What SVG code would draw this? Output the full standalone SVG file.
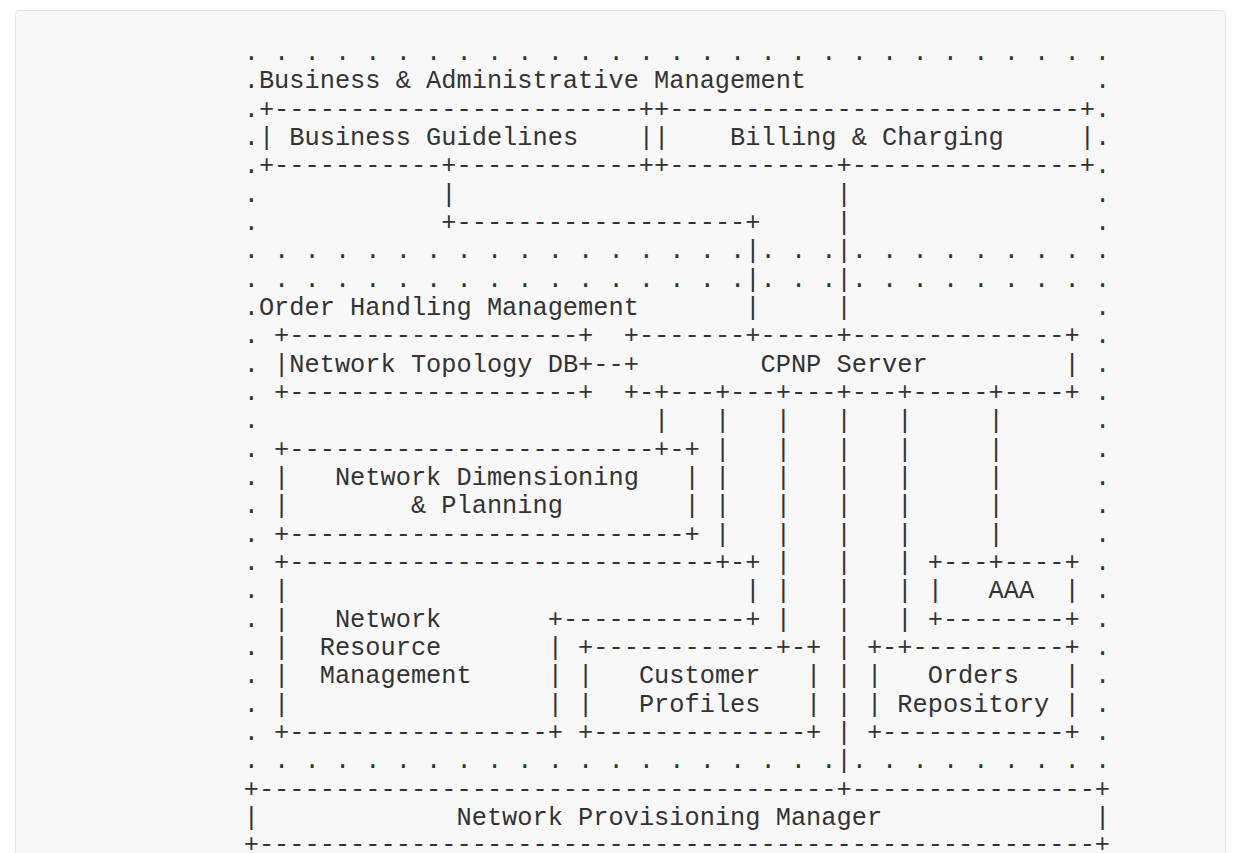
<svg xmlns="http://www.w3.org/2000/svg" width="1241" height="853" viewBox="0 0 1241 853" xml:space="preserve">
<style>
text { font-family: "Liberation Mono", "DejaVu Sans Mono", monospace; font-size: 25.33px; fill: #333333; white-space: pre; }
</style>
<rect x="0" y="0" width="1241" height="853" fill="#ffffff"/>
<rect x="15.5" y="10.5" width="1210" height="900" rx="4" fill="#f8f8f8" stroke="#e3e3e3"/>

<g id="region-business">
<text x="243.7" y="60">. . . . . . . . . . . . . . . . . . . . . . . . . . . . .</text>
<text x="243.7" y="88.33">.Business &amp; Administrative Management</text>
<text x="1094.9" y="88.33">.</text>
<text x="243.7" y="116.67">.</text><text x="1094.9" y="116.67">.</text>
<text x="243.7" y="145">.</text><text x="1094.9" y="145">.</text>
<text x="243.7" y="173.33">.</text><text x="1094.9" y="173.33">.</text>
<text x="243.7" y="201.67">.</text><text x="1094.9" y="201.67">.</text>
<text x="243.7" y="230">.</text><text x="1094.9" y="230">.</text>
<text x="243.7" y="258.33">. . . . . . . . . . . . . . . . .</text>
<text x="760.5" y="258.33">. . .</text>
<text x="851.7" y="258.33">. . . . . . . . .</text>
</g>

<g id="region-order">
<text x="243.7" y="286.67">. . . . . . . . . . . . . . . . .</text>
<text x="760.5" y="286.67">. . .</text>
<text x="851.7" y="286.67">. . . . . . . . .</text>
<text x="243.7" y="315">.Order Handling Management</text>
<text x="1094.9" y="315">.</text>
<text x="243.7" y="343.33">.</text><text x="1094.9" y="343.33">.</text>
<text x="243.7" y="371.67">.</text><text x="1094.9" y="371.67">.</text>
<text x="243.7" y="400">.</text><text x="1094.9" y="400">.</text>
<text x="243.7" y="428.33">.</text><text x="1094.9" y="428.33">.</text>
<text x="243.7" y="456.67">.</text><text x="1094.9" y="456.67">.</text>
<text x="243.7" y="485">.</text><text x="1094.9" y="485">.</text>
<text x="243.7" y="513.33">.</text><text x="1094.9" y="513.33">.</text>
<text x="243.7" y="541.67">.</text><text x="1094.9" y="541.67">.</text>
<text x="243.7" y="570">.</text><text x="1094.9" y="570">.</text>
<text x="243.7" y="598.33">.</text><text x="1094.9" y="598.33">.</text>
<text x="243.7" y="626.67">.</text><text x="1094.9" y="626.67">.</text>
<text x="243.7" y="655">.</text><text x="1094.9" y="655">.</text>
<text x="243.7" y="683.33">.</text><text x="1094.9" y="683.33">.</text>
<text x="243.7" y="711.67">.</text><text x="1094.9" y="711.67">.</text>
<text x="243.7" y="740">.</text><text x="1094.9" y="740">.</text>
<text x="243.7" y="768.33">. . . . . . . . . . . . . . . . . . . .</text>
<text x="851.7" y="768.33">. . . . . . . . .</text>
</g>

<g id="business-guidelines">
<text x="258.9" y="116.67">+------------------------+</text>
<text x="258.9" y="145">| Business Guidelines    |</text>
<text x="258.9" y="173.33">+-----------+------------+</text>
</g>

<g id="billing-charging">
<text x="654.1" y="116.67">+---------------------------+</text>
<text x="654.1" y="145">|    Billing &amp; Charging     |</text>
<text x="654.1" y="173.33">+-----------+---------------+</text>
</g>

<g id="network-topology-db">
<text x="274.1" y="343.33">+-------------------+</text>
<text x="274.1" y="371.67">|Network Topology DB+</text>
<text x="274.1" y="400">+-------------------+</text>
</g>

<g id="cpnp-server">
<text x="623.7" y="343.33">+-------+-----+--------------+</text>
<text x="623.7" y="371.67">+        CPNP Server         |</text>
<text x="623.7" y="400">+-+---+---+---+---+-----+----+</text>
</g>

<g id="network-dimensioning">
<text x="274.1" y="456.67">+------------------------+-+</text>
<text x="274.1" y="485">|   Network Dimensioning   |</text>
<text x="274.1" y="513.33">|        &amp; Planning        |</text>
<text x="274.1" y="541.67">+--------------------------+</text>
</g>

<g id="network-resource-management">
<text x="274.1" y="570">+----------------------------+-+</text>
<text x="274.1" y="598.33">|</text><text x="745.3" y="598.33">|</text>
<text x="274.1" y="626.67">|   Network       +------------+</text>
<text x="274.1" y="655">|  Resource       |</text>
<text x="274.1" y="683.33">|  Management     |</text>
<text x="274.1" y="711.67">|</text><text x="547.7" y="711.67">|</text>
<text x="274.1" y="740">+-----------------+</text>
</g>

<g id="customer-profiles">
<text x="578.1" y="655">+------------+-+</text>
<text x="578.1" y="683.33">|   Customer   |</text>
<text x="578.1" y="711.67">|   Profiles   |</text>
<text x="578.1" y="740">+--------------+</text>
</g>

<g id="aaa">
<text x="927.7" y="570">+---+----+</text>
<text x="927.7" y="598.33">|   AAA  |</text>
<text x="927.7" y="626.67">+--------+</text>
</g>

<g id="orders-repository">
<text x="866.9" y="655">+-+----------+</text>
<text x="866.9" y="683.33">|   Orders   |</text>
<text x="866.9" y="711.67">| Repository |</text>
<text x="866.9" y="740">+------------+</text>
</g>

<g id="network-provisioning-manager">
<text x="243.7" y="796.67">+--------------------------------------+----------------+</text>
<text x="243.7" y="825">|</text>
<text x="456.5" y="825">Network Provisioning Manager</text>
<text x="1094.9" y="825">|</text>
<text x="243.7" y="852">+-------------------------------------------------------+</text>
</g>

<g id="connectors">
<text x="441.3" y="201.67">|</text><text x="836.5" y="201.67">|</text>
<text x="441.3" y="230">+-------------------+</text>
<text x="836.5" y="230">|</text>
<text x="745.3" y="258.33">|</text><text x="836.5" y="258.33">|</text>
<text x="745.3" y="286.67">|</text><text x="836.5" y="286.67">|</text>
<text x="745.3" y="315">|</text><text x="836.5" y="315">|</text>
<text x="593.3" y="371.67">--</text>
<text x="654.1" y="428.33">|</text>
<text x="714.9" y="428.33">|</text><text x="714.9" y="456.67">|</text><text x="714.9" y="485">|</text><text x="714.9" y="513.33">|</text><text x="714.9" y="541.67">|</text>
<text x="775.7" y="428.33">|</text><text x="775.7" y="456.67">|</text><text x="775.7" y="485">|</text><text x="775.7" y="513.33">|</text><text x="775.7" y="541.67">|</text><text x="775.7" y="570">|</text><text x="775.7" y="598.33">|</text><text x="775.7" y="626.67">|</text>
<text x="836.5" y="428.33">|</text><text x="836.5" y="456.67">|</text><text x="836.5" y="485">|</text><text x="836.5" y="513.33">|</text><text x="836.5" y="541.67">|</text><text x="836.5" y="570">|</text><text x="836.5" y="598.33">|</text><text x="836.5" y="626.67">|</text><text x="836.5" y="655">|</text><text x="836.5" y="683.33">|</text><text x="836.5" y="711.67">|</text><text x="836.5" y="740">|</text><text x="836.5" y="768.33">|</text>
<text x="897.3" y="428.33">|</text><text x="897.3" y="456.67">|</text><text x="897.3" y="485">|</text><text x="897.3" y="513.33">|</text><text x="897.3" y="541.67">|</text><text x="897.3" y="570">|</text><text x="897.3" y="598.33">|</text><text x="897.3" y="626.67">|</text>
<text x="988.5" y="428.33">|</text><text x="988.5" y="456.67">|</text><text x="988.5" y="485">|</text><text x="988.5" y="513.33">|</text><text x="988.5" y="541.67">|</text>
</g>
</svg>
